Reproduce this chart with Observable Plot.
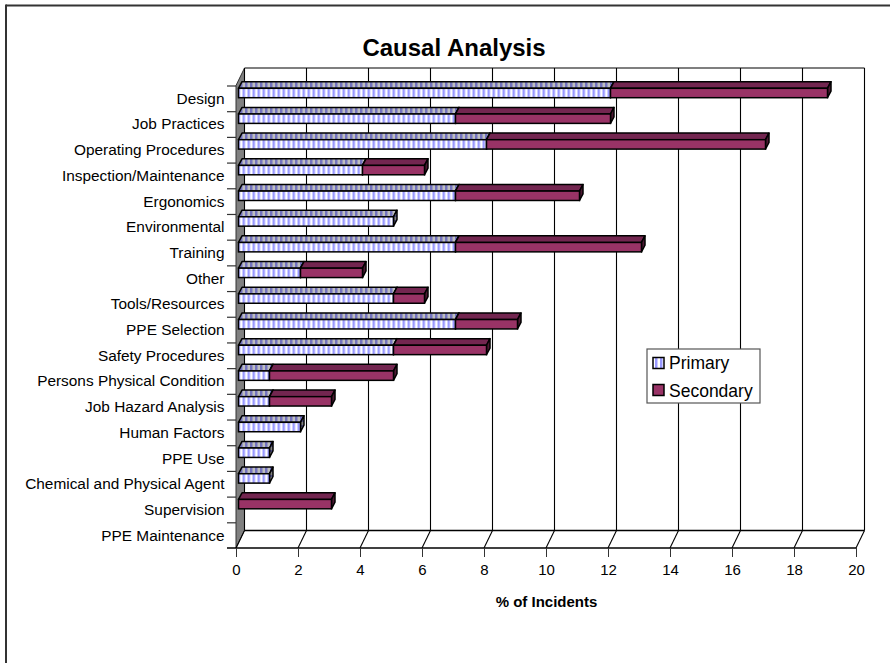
<!DOCTYPE html>
<html>
<head>
<meta charset="utf-8">
<style>
html,body{margin:0;padding:0;background:#fff;}
svg{display:block;}
</style>
<script src="https://cdn.jsdelivr.net/npm/d3@7"></script>
<script src="https://cdn.jsdelivr.net/npm/@observablehq/plot@0.6"></script>
</head>
<body>
<svg width="0" height="0" style="position:absolute">
  <defs>
    <pattern id="pf" width="5" height="5" patternUnits="userSpaceOnUse">
      <rect width="5" height="5" fill="#fff"/>
      <rect x="0" width="2" height="5" fill="#9999ff"/>
      <rect x="2" width="1" height="5" fill="#ccccff"/>
    </pattern>
    <pattern id="pt" width="5" height="5" patternUnits="userSpaceOnUse">
      <rect width="5" height="5" fill="#bfbfbf"/>
      <rect x="0" width="2" height="5" fill="#7373bf"/>
      <rect x="2" width="1" height="5" fill="#9999bf"/>
    </pattern>
    <pattern id="ps" width="5" height="5" patternUnits="userSpaceOnUse">
      <rect width="5" height="5" fill="#808080"/>
      <rect y="0" width="5" height="2" fill="#4d4d80"/>
    </pattern>
  </defs>
</svg>
<script>
const categories = ["Design","Job Practices","Operating Procedures","Inspection/Maintenance","Ergonomics","Environmental","Training","Other","Tools/Resources","PPE Selection","Safety Procedures","Persons Physical Condition","Job Hazard Analysis","Human Factors","PPE Use","Chemical and Physical Agent","Supervision","PPE Maintenance"];
const primary   = [12,7,8,4,7,5,7,2,5,7,5,1,1,2,1,1,0,0];
const secondary = [7,5,9,2,4,0,6,2,1,2,3,4,2,0,0,0,3,0];
const xTicks = [0,2,4,6,8,10,12,14,16,18,20];
const seriesNames = ["Primary","Secondary"];

const primaryRows = categories.map((c,i)=>({c,x1:0,x2:primary[i]})).filter(d=>d.x2>0);
const secondaryRows = categories.map((c,i)=>({c,x1:primary[i],x2:primary[i]+secondary[i]})).filter(d=>d.x2>d.x1);

// depth of the fake 3-D
const DX = 8.5, DY = -17.5;           // chart box depth
const BX0 = 2.5, BDX = 3.5;           // bar front offset, bar depth in x
const BTOP = 2.8, BH = 9.4, BDY = -6.6; // bar front inset, height, depth in y
const MT = 85.5, MB = 115, ML = 236, MR = 34;

const svgNS = "http://www.w3.org/2000/svg";
function el(name, attrs, text){
  const e = document.createElementNS(svgNS, name);
  for (const k in attrs) e.setAttribute(k, attrs[k]);
  if (text != null) e.textContent = text;
  return e;
}

// top and end faces of the bars, placed through the x and y scales
function barDepth(rows, topFill, sideFill){
  return Plot.barX(rows, {
    x1:"x1", x2:"x2", y:"c",
    render(index, scales, values){
      const g = el("g", {});
      for (const i of index){
        const a = values.x1[i] + BX0, b = values.x2[i] + BX0, y = values.y[i] + BTOP;
        g.appendChild(el("path", {
          d:`M${a},${y}L${a+BDX},${y+BDY}L${b+BDX},${y+BDY}L${b},${y}Z`,
          fill:topFill, stroke:"#000", "stroke-width":1.5, "stroke-linejoin":"round"}));
        g.appendChild(el("path", {
          d:`M${b},${y}L${b+BDX},${y+BDY}L${b+BDX},${y+BDY+BH}L${b},${y+BH}Z`,
          fill:sideFill, stroke:"#000", "stroke-width":1.5, "stroke-linejoin":"round"}));
      }
      return g;
    }
  });
}
function barFront(rows, fill){
  return Plot.barX(rows, {
    x1:"x1", x2:"x2", y:"c", fill, stroke:"#000", strokeWidth:1.5,
    insetTop:BTOP, insetBottom:462.5/18-BTOP-BH, dx:BX0
  });
}

// floor slants, wall and box outline, placed through the x scale and the frame
function box(index, {x}, values, {height, marginTop, marginBottom}){
  const g = el("g", {});
  const top = marginTop, bottom = height - marginBottom, x0 = x(0);
  g.appendChild(el("path", {
    d:`M${x0},${top}L${x0+DX},${top+DY}L${x0+DX},${bottom+DY}L${x0},${bottom}Z`,
    fill:"#808080", stroke:"#333", "stroke-width":1}));
  g.appendChild(el("line", {x1:x0+DX, x2:x(20)+DX, y1:top+DY, y2:top+DY, stroke:"#555", "stroke-width":1.3}));
  g.appendChild(el("line", {x1:x0+DX, x2:x(20)+DX, y1:bottom+DY, y2:bottom+DY, stroke:"#000", "stroke-width":1.3}));
  g.appendChild(el("line", {x1:x0-9, x2:x(20), y1:bottom, y2:bottom, stroke:"#000", "stroke-width":1.3}));
  for (const t of xTicks){
    g.appendChild(el("line", {x1:x(t), x2:x(t)+DX, y1:bottom, y2:bottom+DY, stroke:"#000", "stroke-width":1.1}));
    g.appendChild(el("line", {x1:x(t)+DX, x2:x(t)+DX, y1:top+DY, y2:bottom+DY, stroke:"#000", "stroke-width":1.1}));
  }
  return g;
}

function chrome(){
  const g = el("g", {});
  g.appendChild(el("line", {x1:6, x2:890, y1:5.5, y2:5.5, stroke:"#333", "stroke-width":2}));
  g.appendChild(el("line", {x1:6, x2:6, y1:4.5, y2:663, stroke:"#333", "stroke-width":2}));
  return g;
}

function legend(){
  const g = el("g", {"font-size":17.5, "text-anchor":"start"});
  g.appendChild(el("rect", {x:647, y:349, width:113, height:54, fill:"#fff", stroke:"#555", "stroke-width":1.2}));
  const swatches = ["url(#pf)","#993366"];
  seriesNames.forEach((name,i)=>{
    const y = 357.5 + i*27;
    g.appendChild(el("rect", {x:653, y, width:11, height:11, fill:swatches[i], stroke:"#000", "stroke-width":1.5}));
    g.appendChild(el("text", {x:669, y:y+11+i, fill:"#000"}, name));
  });
  return g;
}

const chart = Plot.plot({
  width:890, height:663,
  marginTop:MT, marginBottom:MB, marginLeft:ML, marginRight:MR,
  style:{fontFamily:"'Liberation Sans', Arial, sans-serif", background:"#fff", color:"#000", overflow:"visible"},
  x:{domain:[0,20]},
  y:{domain:categories, padding:0, align:0.5, round:false},
  marks:[
    chrome,
    box,
    Plot.ruleY(categories, {y:d=>d, x1:-9/31, x2:0, dy:-462.5/36, stroke:"#333", strokeWidth:1.2}),
    barDepth(primaryRows, "url(#pt)", "url(#ps)"),
    barFront(primaryRows, "url(#pf)"),
    barDepth(secondaryRows, "#732650", "#4d1933"),
    barFront(secondaryRows, "#993366"),
    Plot.axisY({tickSize:0, tickPadding:12, fontSize:15.4, label:null, lineWidth:30, textOverflow:null}),
    Plot.axisX({ticks:xTicks, tickSize:9, tickPadding:7, fontSize:15, tickFormat:d=>d, label:null, stroke:"#333"}),
    Plot.text(["% of Incidents"], {frameAnchor:"bottom", dy:58, fontSize:15, fontWeight:"bold", fill:"#000"}),
    Plot.text(["Causal Analysis"], {frameAnchor:"top", dx:-92.5, dy:-47.5, fontSize:24, fontWeight:"bold", fill:"#000"}),
    legend
  ]
});
document.body.appendChild(chart);
</script>
</body>
</html>
